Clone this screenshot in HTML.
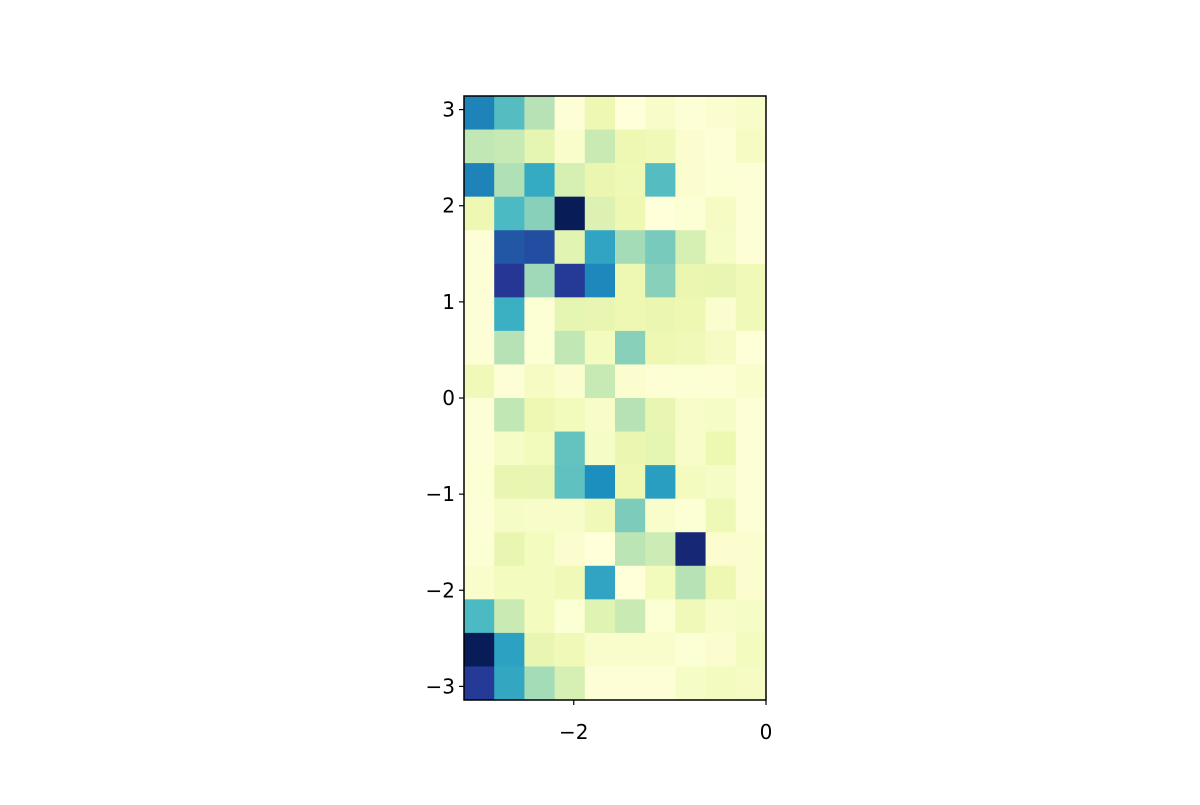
<!DOCTYPE html>
<html><head><meta charset="utf-8"><style>
body{margin:0;background:#fff}
svg text{font-family:"DejaVu Sans","Liberation Sans",sans-serif;font-size:20px;fill:#000}
</style></head><body>
<svg id="chart" width="1200" height="800" viewBox="0 0 1200 800" xmlns="http://www.w3.org/2000/svg">
<rect width="1200" height="800" fill="#fff"/>
<g id="cells"></g>
<g id="axes"></g>
</svg>
<script>
// values per row, top row (y=+pi) first, 10 columns from x=-pi to 0
const row0=[0.66,0.46,0.28,0.01,0.12,0,0.05,0.01,0.03,0.05];
const row1=[0.26,0.25,0.15,0.04,0.24,0.12,0.10,0.03,0.01,0.07];
const row2=[0.66,0.29,0.54,0.20,0.13,0.11,0.46,0.03,0.02,0.01];
const row3=[0.12,0.48,0.36,1.00,0.18,0.12,0,0.02,0.07,0.01];
const row4=[0.01,0.77,0.80,0.16,0.56,0.31,0.39,0.20,0.06,0.01];
const row5=[0.01,0.87,0.32,0.86,0.65,0.12,0.36,0.13,0.14,0.10];
const row6=[0.01,0.52,0.02,0.15,0.14,0.12,0.13,0.12,0.03,0.10];
const row7=[0.01,0.28,0.02,0.26,0.08,0.36,0.12,0.10,0.07,0.005];
const row8=[0.10,0.01,0.07,0.03,0.25,0.03,0.015,0.02,0.015,0.04];
const row9=[0.01,0.26,0.12,0.09,0.05,0.28,0.14,0.05,0.06,0.01];
const row10=[0.01,0.06,0.09,0.43,0.06,0.13,0.15,0.05,0.125,0.01];
const row11=[0.02,0.14,0.14,0.44,0.63,0.12,0.58,0.08,0.06,0.01];
const row12=[0.01,0.06,0.05,0.05,0.10,0.38,0.04,0.02,0.11,0.01];
const row13=[0.02,0.14,0.08,0.03,0,0.27,0.23,0.94,0.03,0.03];
const row14=[0.04,0.08,0.08,0.10,0.56,0,0.09,0.28,0.12,0.03];
const row15=[0.48,0.24,0.08,0.02,0.17,0.24,0.02,0.10,0.05,0.06];
const row16=[1.00,0.57,0.14,0.10,0.04,0.04,0.04,0.02,0.03,0.08];
const row17=[0.86,0.55,0.31,0.20,0.01,0.01,0.01,0.06,0.08,0.07];
const rows=[row0,row1,row2,row3,row4,row5,row6,row7,row8,row9,row10,row11,row12,row13,row14,row15,row16,row17];
const xTicks=[-2,0];
const yTicks=[-3,-2,-1,0,1,2,3];

const L=464,R=766,T=96,B=700;
const xmin=-Math.PI,xmax=0,ymin=-Math.PI,ymax=Math.PI;
const sx=v=>L+(v-xmin)/(xmax-xmin)*(R-L);
const sy=v=>B-(v-ymin)/(ymax-ymin)*(B-T);
const stops=["#ffffd9","#edf8b1","#c7e9b4","#7fcdbb","#41b6c4","#1d91c0","#225ea8","#253494","#081d58"];
function hex(h){return [1,3,5].map(i=>parseInt(h.substr(i,2),16));}
function cmap(v){v=Math.max(0,Math.min(1,v));const p=v*8,i=Math.min(7,Math.floor(p)),f=p-i;
 const a=hex(stops[i]),b=hex(stops[i+1]);return "rgb("+a.map((c,k)=>Math.round(c+(b[k]-c)*f)).join(",")+")";}
const NS="http://www.w3.org/2000/svg";
const cells=document.getElementById('cells');
const nr=rows.length,nc=rows[0].length;
rows.forEach((r,ri)=>r.forEach((v,ci)=>{
 const x0=sx(xmin+ci*(xmax-xmin)/nc),x1=sx(xmin+(ci+1)*(xmax-xmin)/nc);
 const y0=sy(ymax-ri*(ymax-ymin)/nr),y1=sy(ymax-(ri+1)*(ymax-ymin)/nr);
 const e=document.createElementNS(NS,'rect');
 e.setAttribute('x',x0);e.setAttribute('y',y0);e.setAttribute('width',x1-x0+0.3);e.setAttribute('height',y1-y0+0.3);
 e.setAttribute('fill',cmap(v));
 
 
 cells.appendChild(e);
}));
const ax=document.getElementById('axes');
const fr=document.createElementNS(NS,'rect');
fr.setAttribute('x',L);fr.setAttribute('y',T);fr.setAttribute('width',R-L);fr.setAttribute('height',B-T);
fr.setAttribute('fill','none');fr.setAttribute('stroke','#000');fr.setAttribute('stroke-width','1.5');


ax.appendChild(fr);
xTicks.forEach(t=>{
 const x=sx(t);
 const l=document.createElementNS(NS,'line');
 l.setAttribute('x1',x);l.setAttribute('x2',x);l.setAttribute('y1',B);l.setAttribute('y2',B+5);l.setAttribute('stroke','#000');l.setAttribute('stroke-width','1.2');
 
 
 ax.appendChild(l);
 const tx=document.createElementNS(NS,'text');
 tx.setAttribute('x',x);tx.setAttribute('y',B+39);tx.setAttribute('text-anchor','middle');
 tx.textContent=t<0?'\u2212'+Math.abs(t):String(t);
 
 
 ax.appendChild(tx);
});
yTicks.forEach(t=>{
 const y=sy(t);
 const l=document.createElementNS(NS,'line');
 l.setAttribute('x1',L-5);l.setAttribute('x2',L);l.setAttribute('y1',y);l.setAttribute('y2',y);l.setAttribute('stroke','#000');l.setAttribute('stroke-width','1.2');
 
 
 ax.appendChild(l);
 const tx=document.createElementNS(NS,'text');
 tx.setAttribute('x',L-9);tx.setAttribute('y',y+7);tx.setAttribute('text-anchor','end');
 tx.textContent=t<0?'\u2212'+Math.abs(t):String(t);
 
 
 ax.appendChild(tx);
});
</script>
</body></html>
